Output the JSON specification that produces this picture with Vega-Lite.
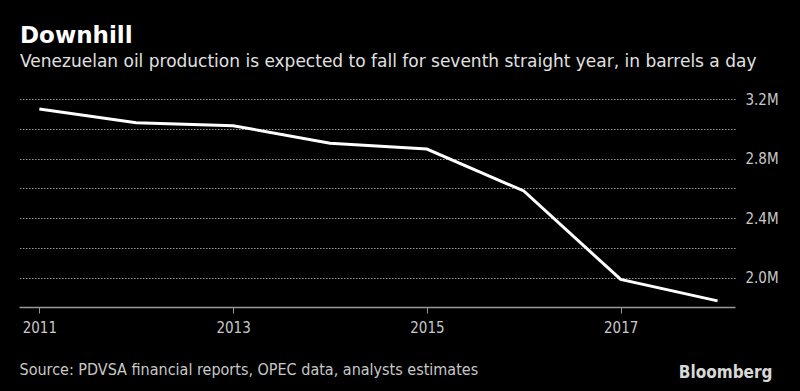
{
  "$schema": "https://vega.github.io/schema/vega-lite/v6.json",
  "autosize": {"type": "none"},
  "width": 716,
  "height": 208,
  "padding": {"left": 19, "top": 99, "right": 65, "bottom": 84},
  "background": "#000000",
  "config": {"view": {"stroke": null}, "font": "DejaVu Sans Condensed, sans-serif"},
  "title": {
    "text": "Downhill",
    "subtitle": "Venezuelan oil production is expected to fall for seventh straight year, in barrels a day",
    "anchor": "start",
    "frame": "group",
    "offset": 22,
    "dx": 1,
    "font": "DejaVu Sans, sans-serif",
    "fontSize": 23,
    "fontWeight": "bold",
    "color": "#ffffff",
    "subtitleFont": "DejaVu Sans, sans-serif",
    "subtitleFontSize": 17,
    "subtitleColor": "#e0e0e0",
    "subtitlePadding": 6
  },
  "data": {
    "values": [
      {"year": 2011, "production": 3133000},
      {"year": 2012, "production": 3041000},
      {"year": 2013, "production": 3021000},
      {"year": 2014, "production": 2903000},
      {"year": 2015, "production": 2864000},
      {"year": 2016, "production": 2583000},
      {"year": 2017, "production": 1990000},
      {"year": 2018, "production": 1846000}
    ]
  },
  "mark": {"type": "line", "color": "#ffffff", "strokeWidth": 3, "strokeJoin": "miter"},
  "encoding": {
    "x": {
      "field": "year",
      "type": "quantitative",
      "scale": {"domain": [2010.79, 2018.18], "nice": false, "zero": false},
      "axis": {
        "values": [2011, 2013, 2015, 2017],
        "format": "d",
        "grid": false,
        "domainColor": "#999999",
        "domainWidth": 1.5,
        "tickColor": "#999999",
        "tickSize": 6,
        "labelColor": "#c8c8c8",
        "labelFontSize": 15,
        "labelPadding": 7,
        "labelFlush": false,
        "title": "Source: PDVSA financial reports, OPEC data, analysts estimates",
        "titleAnchor": "start",
        "titleAlign": "left",
        "titleBaseline": "alphabetic",
        "titleX": 0,
        "titleY": 67,
        "titleFontWeight": "normal",
        "titleFontSize": 16,
        "titleColor": "#c8c8c8"
      }
    },
    "y": {
      "field": "production",
      "type": "quantitative",
      "scale": {"domain": [1805000, 3200000], "nice": false, "zero": false},
      "axis": {
        "orient": "right",
        "values": [2000000, 2200000, 2400000, 2600000, 2800000, 3000000, 3200000],
        "labelExpr": "round(datum.value / 100000) % 4 == 0 ? format(datum.value / 1000000, '.1f') + 'M' : ''",
        "grid": true,
        "gridColor": "#9a9a9a",
        "gridDash": [1.5, 1.5],
        "gridWidth": 1,
        "domain": false,
        "ticks": false,
        "labelColor": "#c8c8c8",
        "labelFontSize": 15,
        "labelPadding": 10,
        "labelBaseline": "middle",
        "title": "Bloomberg",
        "titleAngle": 0,
        "titleAlign": "right",
        "titleBaseline": "alphabetic",
        "titleX": 37,
        "titleY": 278,
        "titleFont": "DejaVu Sans Condensed, sans-serif",
        "titleFontWeight": "bold",
        "titleFontSize": 17,
        "titleColor": "#d8d8d8"
      }
    }
  }
}
